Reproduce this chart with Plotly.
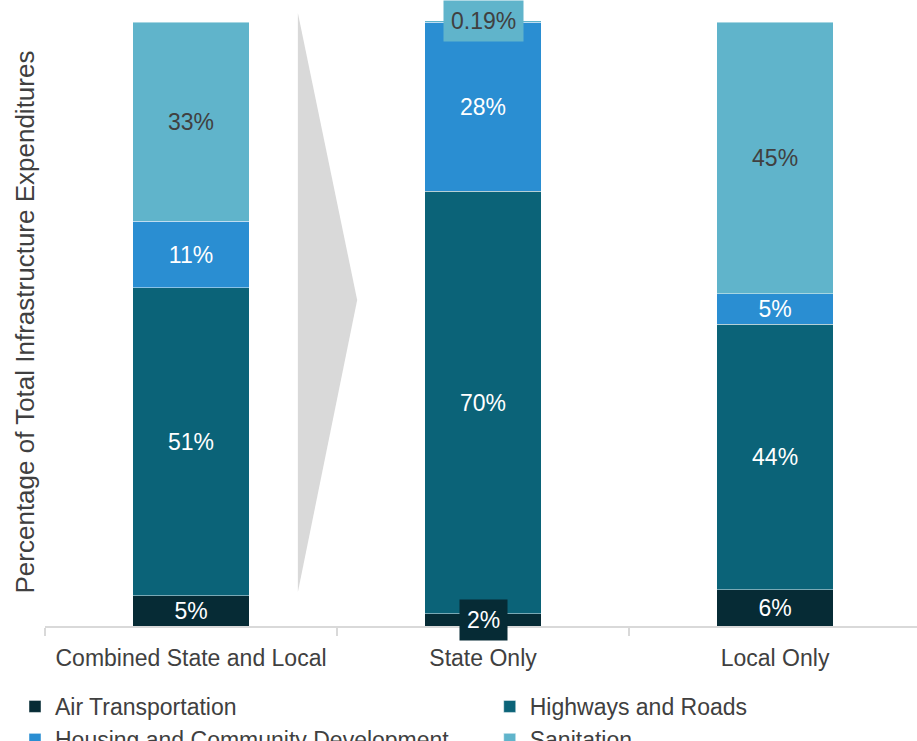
import plotly.graph_objects as go

# Share of total infrastructure expenditures by function (%)
categories = ["Combined State and Local", "State Only", "Local Only"]
air_transportation = [5, 2, 6]
highways_and_roads = [51, 70, 44]
housing_and_community = [11, 28, 5]
sanitation = [33, 0.19, 45]

series_names = [
    "Air Transportation",
    "Highways and Roads",
    "Housing and Community Development",
    "Sanitation",
]
series_values = [air_transportation, highways_and_roads, housing_and_community, sanitation]
series_colors = ["#062b35", "#0b6378", "#2a8ed2", "#60b4cb"]
label_colors = ["#ffffff", "#ffffff", "#ffffff", "#404040"]
# two legend columns: left column / right column
legend_columns = ["legend", "legend2", "legend", "legend2"]

FONT = "Liberation Sans, Arial, sans-serif"
TEXT_GRAY = "#404040"
SMALL_SEGMENT = 3  # segments thinner than this get a boxed label


def fmt(v):
    return f"{v:g}%"


fig = go.Figure()
annotations = []
base = [0.0] * len(categories)

for name, vals, color, lcolor, leg in zip(
    series_names, series_values, series_colors, label_colors, legend_columns
):
    positions = ["none" if v < SMALL_SEGMENT else "inside" for v in vals]
    fig.add_trace(
        go.Bar(
            x=categories,
            y=vals,
            name=name,
            legend=leg,
            marker=dict(color=color, line=dict(color="rgba(255,255,255,0.45)", width=1)),
            width=0.4,
            text=[fmt(v) for v in vals],
            textposition=positions,
            insidetextanchor="middle",
            constraintext="none",
            textfont=dict(family=FONT, size=23, color=lcolor),
            hoverinfo="name+y",
        )
    )
    # boxed labels for very thin segments, centred on the segment
    for i, v in enumerate(vals):
        if v < SMALL_SEGMENT:
            annotations.append(
                dict(
                    x=categories[i],
                    y=base[i] + v / 2,
                    xref="x",
                    yref="y",
                    text=fmt(v),
                    showarrow=False,
                    font=dict(family=FONT, size=23, color=lcolor),
                    bgcolor=color,
                    borderpad=7,
                    xanchor="center",
                    yanchor="middle",
                )
            )
    base = [b + v for b, v in zip(base, vals)]

# vertical axis title
annotations.append(
    dict(
        x=0,
        y=0.5,
        xref="paper",
        yref="paper",
        xshift=-21,
        text="Percentage of Total Infrastructure Expenditures",
        textangle=-90,
        showarrow=False,
        font=dict(family=FONT, size=26, color=TEXT_GRAY),
        xanchor="center",
        yanchor="middle",
    )
)

# decorative arrow pointing from the combined bar to the breakdown
arrow_path = "M 0.290 1.010 L 0.358 0.537 L 0.290 0.056 Z"

legend_style = dict(
    orientation="v",
    xanchor="left",
    y=-0.0972,
    yanchor="top",
    font=dict(family=FONT, size=23, color=TEXT_GRAY),
    traceorder="normal",
    itemclick=False,
    itemdoubleclick=False,
    bgcolor="rgba(0,0,0,0)",
)

fig.update_layout(
    width=917,
    height=741,
    margin=dict(l=45, r=0, t=19, b=115, autoexpand=False),
    paper_bgcolor="white",
    plot_bgcolor="white",
    barmode="stack",
    bargap=0.6,
    font=dict(family=FONT, size=23, color=TEXT_GRAY),
    annotations=annotations,
    shapes=[
        dict(
            type="path",
            path=arrow_path,
            xref="paper",
            yref="paper",
            fillcolor="#d9d9d9",
            line=dict(width=0),
            layer="below",
        )
    ],
    xaxis=dict(
        type="category",
        range=[-0.5, 2.486],
        showline=True,
        linecolor="#d9d9d9",
        linewidth=2,
        ticks="outside",
        tickson="boundaries",
        ticklen=8,
        tickcolor="#d9d9d9",
        tickwidth=2,
        ticklabelstandoff=10,
        tickfont=dict(family=FONT, size=23, color=TEXT_GRAY),
        showgrid=False,
        zeroline=False,
    ),
    yaxis=dict(
        range=[0, 100.5],
        showticklabels=False,
        showgrid=False,
        zeroline=False,
        showline=False,
        ticks="",
    ),
    legend=dict(x=-0.0344, **legend_style),
    legend2=dict(x=0.510, **legend_style),
    showlegend=True,
)

fig.write_html("out.html")
